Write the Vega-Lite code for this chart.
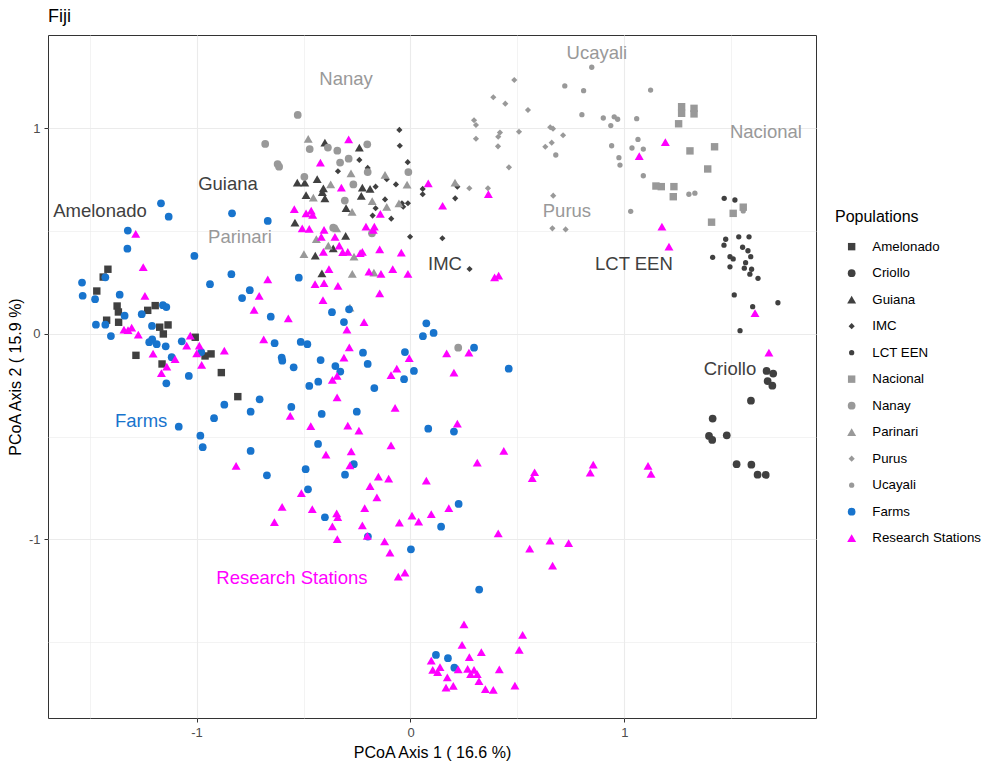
{
  "$schema": "https://vega.github.io/schema/vega-lite/v6.json",
  "width": 768,
  "height": 683,
  "autosize": {"type": "none"},
  "padding": {"left": 48, "top": 35, "right": 175, "bottom": 47},
  "background": "white",
  "title": {"text": "Fiji", "anchor": "start", "frame": "group", "offset": 9, "fontSize": 18, "font": "Liberation Sans", "fontWeight": "normal", "color": "#000000"},
  "config": {
    "view": {"stroke": "#333333", "strokeWidth": 1},
    "font": "Liberation Sans",
    "axis": {"domain": false, "gridColor": "#EBEBEB", "tickColor": "#333333", "tickSize": 4, "labelColor": "#4D4D4D", "labelFontSize": 13, "labelPadding": 4, "titleFontSize": 16, "titleFontWeight": "normal", "titleColor": "#000000", "labelFont": "Liberation Sans", "titleFont": "Liberation Sans"},
    "legend": {"titleFontSize": 16, "titleFontWeight": "normal", "titleColor": "#000000", "labelFontSize": 13.3, "labelColor": "#000000", "rowPadding": 12.5, "titlePadding": 15, "labelOffset": 14, "symbolOffset": 10, "titleFont": "Liberation Sans", "labelFont": "Liberation Sans"}
  },
  "datasets": {
    "pts": [
      {"pop":"Amelonado","x":-1.414,"y":0.315},{"pop":"Amelonado","x":-1.436,"y":0.277},{"pop":"Amelonado","x":-1.466,"y":0.209},{"pop":"Amelonado","x":-1.371,"y":0.136},{"pop":"Amelonado","x":-1.365,"y":0.107},{"pop":"Amelonado","x":-1.420,"y":0.067},{"pop":"Amelonado","x":-1.364,"y":0.057},{"pop":"Amelonado","x":-1.228,"y":0.115},{"pop":"Amelonado","x":-1.193,"y":0.138},{"pop":"Amelonado","x":-1.172,"y":0.033},{"pop":"Amelonado","x":-1.133,"y":0.044},{"pop":"Amelonado","x":-1.155,"y":0.000},{"pop":"Amelonado","x":-1.283,"y":-0.104},{"pop":"Amelonado","x":-1.161,"y":-0.146},{"pop":"Amelonado","x":-1.006,"y":-0.016},{"pop":"Amelonado","x":-0.960,"y":-0.107},{"pop":"Amelonado","x":-0.932,"y":-0.097},{"pop":"Amelonado","x":-0.884,"y":-0.188},{"pop":"Amelonado","x":-0.807,"y":-0.305},
      {"pop":"Criollo","x":1.664,"y":-0.180},{"pop":"Criollo","x":1.695,"y":-0.193},{"pop":"Criollo","x":1.669,"y":-0.229},{"pop":"Criollo","x":1.691,"y":-0.252},{"pop":"Criollo","x":1.591,"y":-0.325},{"pop":"Criollo","x":1.412,"y":-0.412},{"pop":"Criollo","x":1.395,"y":-0.496},{"pop":"Criollo","x":1.410,"y":-0.516},{"pop":"Criollo","x":1.478,"y":-0.493},{"pop":"Criollo","x":1.524,"y":-0.634},{"pop":"Criollo","x":1.593,"y":-0.636},{"pop":"Criollo","x":1.622,"y":-0.685},{"pop":"Criollo","x":1.660,"y":-0.686},
      {"pop":"Guiana","x":-0.400,"y":0.931},{"pop":"Guiana","x":-0.239,"y":0.907},{"pop":"Guiana","x":-0.529,"y":0.736},{"pop":"Guiana","x":-0.494,"y":0.736},{"pop":"Guiana","x":-0.436,"y":0.753},{"pop":"Guiana","x":-0.407,"y":0.709},{"pop":"Guiana","x":-0.488,"y":0.676},{"pop":"Guiana","x":-0.400,"y":0.660},{"pop":"Guiana","x":-0.412,"y":0.690},{"pop":"Guiana","x":-0.225,"y":0.712},{"pop":"Guiana","x":-0.189,"y":0.706},{"pop":"Guiana","x":-0.230,"y":0.672},{"pop":"Guiana","x":-0.301,"y":0.612},{"pop":"Guiana","x":-0.540,"y":0.542},{"pop":"Guiana","x":-0.303,"y":0.477},{"pop":"Guiana","x":-0.361,"y":0.417},{"pop":"Guiana","x":-0.445,"y":0.381},{"pop":"Guiana","x":-0.414,"y":0.295},
      {"pop":"IMC","x":-0.052,"y":0.993},{"pop":"IMC","x":-0.050,"y":0.916},{"pop":"IMC","x":-0.239,"y":0.847},{"pop":"IMC","x":-0.013,"y":0.836},{"pop":"IMC","x":-0.339,"y":0.792},{"pop":"IMC","x":-0.200,"y":0.808},{"pop":"IMC","x":-0.111,"y":0.753},{"pop":"IMC","x":-0.068,"y":0.728},{"pop":"IMC","x":-0.163,"y":0.717},{"pop":"IMC","x":-0.119,"y":0.655},{"pop":"IMC","x":-0.040,"y":0.636},{"pop":"IMC","x":-0.012,"y":0.636},{"pop":"IMC","x":-0.034,"y":0.619},{"pop":"IMC","x":-0.163,"y":0.612},{"pop":"IMC","x":-0.177,"y":0.576},{"pop":"IMC","x":-0.090,"y":0.561},{"pop":"IMC","x":-0.002,"y":0.473},{"pop":"IMC","x":0.149,"y":0.466},{"pop":"IMC","x":0.057,"y":0.706},{"pop":"IMC","x":0.057,"y":0.680},{"pop":"IMC","x":0.209,"y":0.660},{"pop":"IMC","x":0.219,"y":0.717},{"pop":"IMC","x":0.276,"y":0.316},
      {"pop":"LCT EEN","x":1.466,"y":0.660},{"pop":"LCT EEN","x":1.516,"y":0.652},{"pop":"LCT EEN","x":1.473,"y":0.461},{"pop":"LCT EEN","x":1.465,"y":0.432},{"pop":"LCT EEN","x":1.534,"y":0.473},{"pop":"LCT EEN","x":1.582,"y":0.473},{"pop":"LCT EEN","x":1.412,"y":0.373},{"pop":"LCT EEN","x":1.493,"y":0.376},{"pop":"LCT EEN","x":1.508,"y":0.365},{"pop":"LCT EEN","x":1.552,"y":0.422},{"pop":"LCT EEN","x":1.577,"y":0.405},{"pop":"LCT EEN","x":1.590,"y":0.376},{"pop":"LCT EEN","x":1.493,"y":0.327},{"pop":"LCT EEN","x":1.566,"y":0.347},{"pop":"LCT EEN","x":1.560,"y":0.320},{"pop":"LCT EEN","x":1.594,"y":0.315},{"pop":"LCT EEN","x":1.586,"y":0.291},{"pop":"LCT EEN","x":1.624,"y":0.271},{"pop":"LCT EEN","x":1.513,"y":0.190},{"pop":"LCT EEN","x":1.717,"y":0.152},{"pop":"LCT EEN","x":1.599,"y":0.133},{"pop":"LCT EEN","x":1.540,"y":0.016},
      {"pop":"Nacional","x":1.267,"y":1.106},{"pop":"Nacional","x":1.267,"y":1.074},{"pop":"Nacional","x":1.325,"y":1.098},{"pop":"Nacional","x":1.325,"y":1.071},{"pop":"Nacional","x":1.253,"y":1.023},{"pop":"Nacional","x":1.421,"y":0.911},{"pop":"Nacional","x":1.306,"y":0.891},{"pop":"Nacional","x":1.389,"y":0.803},{"pop":"Nacional","x":1.147,"y":0.720},{"pop":"Nacional","x":1.172,"y":0.717},{"pop":"Nacional","x":1.231,"y":0.717},{"pop":"Nacional","x":1.228,"y":0.668},{"pop":"Nacional","x":1.555,"y":0.617},{"pop":"Nacional","x":1.508,"y":0.587},{"pop":"Nacional","x":1.407,"y":0.544},
      {"pop":"Nanay","x":-0.527,"y":1.066},{"pop":"Nanay","x":-0.679,"y":0.925},{"pop":"Nanay","x":-0.621,"y":0.827},{"pop":"Nanay","x":-0.614,"y":0.814},{"pop":"Nanay","x":-0.471,"y":0.900},{"pop":"Nanay","x":-0.386,"y":0.907},{"pop":"Nanay","x":-0.342,"y":0.892},{"pop":"Nanay","x":-0.202,"y":0.923},{"pop":"Nanay","x":-0.289,"y":0.853},{"pop":"Nanay","x":-0.329,"y":0.834},{"pop":"Nanay","x":-0.200,"y":0.788},{"pop":"Nanay","x":-0.010,"y":0.788},{"pop":"Nanay","x":-0.496,"y":0.765},{"pop":"Nanay","x":-0.267,"y":0.728},{"pop":"Nanay","x":-0.307,"y":0.649},{"pop":"Nanay","x":-0.361,"y":0.517},{"pop":"Nanay","x":-0.180,"y":0.490},{"pop":"Nanay","x":0.223,"y":-0.067},
      {"pop":"Parinari","x":-0.478,"y":0.949},{"pop":"Parinari","x":-0.278,"y":0.782},{"pop":"Parinari","x":-0.119,"y":0.774},{"pop":"Parinari","x":-0.016,"y":0.727},{"pop":"Parinari","x":-0.373,"y":0.728},{"pop":"Parinari","x":-0.454,"y":0.663},{"pop":"Parinari","x":-0.179,"y":0.647},{"pop":"Parinari","x":-0.111,"y":0.619},{"pop":"Parinari","x":-0.054,"y":0.636},{"pop":"Parinari","x":-0.273,"y":0.594},{"pop":"Parinari","x":-0.345,"y":0.514},{"pop":"Parinari","x":-0.440,"y":0.461},{"pop":"Parinari","x":-0.384,"y":0.430},{"pop":"Parinari","x":-0.264,"y":0.376},{"pop":"Parinari","x":-0.498,"y":0.388},{"pop":"Parinari","x":-0.272,"y":0.292},{"pop":"Parinari","x":-0.171,"y":0.298},{"pop":"Parinari","x":0.208,"y":0.737},{"pop":"Parinari","x":-0.283,"y":0.128},
      {"pop":"Purus","x":0.485,"y":1.236},{"pop":"Purus","x":0.387,"y":1.152},{"pop":"Purus","x":0.443,"y":1.121},{"pop":"Purus","x":0.549,"y":1.090},{"pop":"Purus","x":0.297,"y":1.040},{"pop":"Purus","x":0.306,"y":1.017},{"pop":"Purus","x":0.306,"y":0.950},{"pop":"Purus","x":0.418,"y":0.980},{"pop":"Purus","x":0.410,"y":0.960},{"pop":"Purus","x":0.507,"y":0.984},{"pop":"Purus","x":0.409,"y":0.913},{"pop":"Purus","x":0.460,"y":0.811},{"pop":"Purus","x":0.653,"y":1.006},{"pop":"Purus","x":0.666,"y":0.999},{"pop":"Purus","x":0.713,"y":0.967},{"pop":"Purus","x":0.660,"y":0.931},{"pop":"Purus","x":0.630,"y":0.911},{"pop":"Purus","x":0.667,"y":0.673},{"pop":"Purus","x":0.275,"y":0.709},{"pop":"Purus","x":0.362,"y":0.709},{"pop":"Purus","x":0.663,"y":0.514},{"pop":"Purus","x":0.725,"y":0.509},
      {"pop":"Ucayali","x":0.847,"y":1.298},{"pop":"Ucayali","x":0.721,"y":1.207},{"pop":"Ucayali","x":0.809,"y":1.184},{"pop":"Ucayali","x":0.801,"y":1.067},{"pop":"Ucayali","x":0.901,"y":1.051},{"pop":"Ucayali","x":0.952,"y":1.057},{"pop":"Ucayali","x":0.968,"y":1.045},{"pop":"Ucayali","x":0.936,"y":1.014},{"pop":"Ucayali","x":1.057,"y":1.048},{"pop":"Ucayali","x":1.122,"y":1.187},{"pop":"Ucayali","x":0.679,"y":0.871},{"pop":"Ucayali","x":0.940,"y":0.916},{"pop":"Ucayali","x":0.974,"y":0.858},{"pop":"Ucayali","x":0.979,"y":0.822},{"pop":"Ucayali","x":1.035,"y":0.905},{"pop":"Ucayali","x":1.063,"y":0.947},{"pop":"Ucayali","x":1.088,"y":0.900},{"pop":"Ucayali","x":1.088,"y":0.770},{"pop":"Ucayali","x":1.029,"y":0.597},{"pop":"Ucayali","x":1.301,"y":0.680},{"pop":"Ucayali","x":1.329,"y":0.685},{"pop":"Ucayali","x":1.555,"y":0.599},
      {"pop":"Farms","x":-1.166,"y":0.636},{"pop":"Farms","x":-1.130,"y":0.571},{"pop":"Farms","x":-1.321,"y":0.503},{"pop":"Farms","x":-1.323,"y":0.415},{"pop":"Farms","x":-1.010,"y":0.380},{"pop":"Farms","x":-1.426,"y":0.276},{"pop":"Farms","x":-1.535,"y":0.250},{"pop":"Farms","x":-1.532,"y":0.186},{"pop":"Farms","x":-1.474,"y":0.169},{"pop":"Farms","x":-1.359,"y":0.191},{"pop":"Farms","x":-0.937,"y":0.242},{"pop":"Farms","x":-0.837,"y":0.291},{"pop":"Farms","x":-0.834,"y":0.587},{"pop":"Farms","x":-1.336,"y":0.089},{"pop":"Farms","x":-1.256,"y":0.096},{"pop":"Farms","x":-1.157,"y":0.140},{"pop":"Farms","x":-1.141,"y":0.131},{"pop":"Farms","x":-1.470,"y":0.045},{"pop":"Farms","x":-1.426,"y":0.045},{"pop":"Farms","x":-1.400,"y":-0.010},{"pop":"Farms","x":-1.208,"y":0.039},{"pop":"Farms","x":-1.221,"y":-0.040},{"pop":"Farms","x":-1.207,"y":-0.026},{"pop":"Farms","x":-1.186,"y":-0.050},{"pop":"Farms","x":-1.144,"y":-0.060},{"pop":"Farms","x":-1.069,"y":-0.036},{"pop":"Farms","x":-1.116,"y":-0.113},{"pop":"Farms","x":-1.036,"y":-0.204},{"pop":"Farms","x":-1.141,"y":-0.240},{"pop":"Farms","x":-0.978,"y":-0.088},
      {"pop":"Farms","x":-0.751,"y":0.213},{"pop":"Farms","x":-0.787,"y":0.175},{"pop":"Farms","x":-0.653,"y":0.084},{"pop":"Farms","x":-0.522,"y":0.274},{"pop":"Farms","x":-0.635,"y":-0.045},{"pop":"Farms","x":-0.602,"y":-0.115},{"pop":"Farms","x":-0.599,"y":-0.130},{"pop":"Farms","x":-0.546,"y":-0.162},{"pop":"Farms","x":-0.513,"y":-0.039},{"pop":"Farms","x":-0.482,"y":-0.050},{"pop":"Farms","x":-0.367,"y":0.106},{"pop":"Farms","x":-0.311,"y":0.058},{"pop":"Farms","x":-0.287,"y":0.120},{"pop":"Farms","x":-0.420,"y":-0.127},{"pop":"Farms","x":-0.351,"y":-0.156},{"pop":"Farms","x":-0.328,"y":-0.183},{"pop":"Farms","x":-0.431,"y":-0.232},{"pop":"Farms","x":-0.473,"y":-0.253},{"pop":"Farms","x":-0.222,"y":-0.091},{"pop":"Farms","x":-0.200,"y":-0.146},{"pop":"Farms","x":-0.169,"y":-0.263},{"pop":"Farms","x":-0.026,"y":-0.088},{"pop":"Farms","x":0.016,"y":-0.180},{"pop":"Farms","x":-0.030,"y":-0.220},{"pop":"Farms","x":-1.083,"y":-0.451},{"pop":"Farms","x":-0.982,"y":-0.495},{"pop":"Farms","x":-0.971,"y":-0.551},{"pop":"Farms","x":-0.918,"y":-0.410},{"pop":"Farms","x":-0.870,"y":-0.344},{"pop":"Farms","x":-0.747,"y":-0.378},{"pop":"Farms","x":-0.705,"y":-0.318},{"pop":"Farms","x":-0.747,"y":-0.569},{"pop":"Farms","x":-0.557,"y":-0.355},{"pop":"Farms","x":-0.415,"y":-0.389},{"pop":"Farms","x":-0.251,"y":-0.378},{"pop":"Farms","x":-0.432,"y":-0.535},{"pop":"Farms","x":-0.667,"y":0.550},
      {"pop":"Farms","x":0.074,"y":0.052},{"pop":"Farms","x":0.058,"y":-0.011},{"pop":"Farms","x":0.108,"y":0.005},{"pop":"Farms","x":0.297,"y":-0.067},{"pop":"Farms","x":0.459,"y":-0.169},{"pop":"Farms","x":0.083,"y":-0.461},{"pop":"Farms","x":0.203,"y":-0.475},{"pop":"Farms","x":-0.671,"y":-0.688},{"pop":"Farms","x":-0.490,"y":-0.658},{"pop":"Farms","x":-0.265,"y":-0.634},{"pop":"Farms","x":-0.306,"y":-0.685},{"pop":"Farms","x":-0.479,"y":-0.756},{"pop":"Farms","x":-0.400,"y":-0.892},{"pop":"Farms","x":-0.199,"y":-0.986},{"pop":"Farms","x":0.225,"y":-0.827},{"pop":"Farms","x":0.143,"y":-0.938},{"pop":"Farms","x":0.002,"y":-1.048},{"pop":"Farms","x":0.321,"y":-1.244},{"pop":"Farms","x":0.119,"y":-1.562},{"pop":"Farms","x":0.175,"y":-1.578},{"pop":"Farms","x":0.205,"y":-1.624},
      {"pop":"Research Stations","x":-1.284,"y":0.487},{"pop":"Research Stations","x":-1.249,"y":0.325},{"pop":"Research Stations","x":-1.241,"y":0.185},{"pop":"Research Stations","x":-1.339,"y":0.021},{"pop":"Research Stations","x":-1.303,"y":0.031},{"pop":"Research Stations","x":-1.320,"y":0.019},{"pop":"Research Stations","x":-1.272,"y":-0.003},{"pop":"Research Stations","x":-1.203,"y":-0.096},{"pop":"Research Stations","x":-1.100,"y":-0.122},{"pop":"Research Stations","x":-1.139,"y":-0.159},{"pop":"Research Stations","x":-1.164,"y":-0.191},{"pop":"Research Stations","x":-1.029,"y":-0.008},{"pop":"Research Stations","x":-1.046,"y":-0.057},{"pop":"Research Stations","x":-0.987,"y":-0.057},{"pop":"Research Stations","x":-0.999,"y":-0.094},{"pop":"Research Stations","x":-0.976,"y":-0.151},{"pop":"Research Stations","x":-0.870,"y":-0.081},
      {"pop":"Research Stations","x":-0.731,"y":0.117},{"pop":"Research Stations","x":-0.571,"y":0.076},{"pop":"Research Stations","x":-0.686,"y":-0.026},{"pop":"Research Stations","x":-0.217,"y":0.058},{"pop":"Research Stations","x":-0.297,"y":0.021},{"pop":"Research Stations","x":-0.286,"y":-0.065},{"pop":"Research Stations","x":-0.311,"y":-0.115},{"pop":"Research Stations","x":-0.365,"y":-0.224},{"pop":"Research Stations","x":-0.343,"y":-0.204},{"pop":"Research Stations","x":-0.343,"y":-0.308},{"pop":"Research Stations","x":-0.091,"y":-0.200},{"pop":"Research Stations","x":-0.064,"y":-0.169},{"pop":"Research Stations","x":-0.006,"y":-0.118},{"pop":"Research Stations","x":-0.072,"y":-0.360},{"pop":"Research Stations","x":-0.562,"y":-0.399},{"pop":"Research Stations","x":-0.466,"y":-0.448},{"pop":"Research Stations","x":-0.293,"y":-0.446},{"pop":"Research Stations","x":-0.241,"y":-0.471},{"pop":"Research Stations","x":-0.395,"y":-0.587},{"pop":"Research Stations","x":-0.277,"y":-0.571},{"pop":"Research Stations","x":-0.091,"y":-0.542},
      {"pop":"Research Stations","x":-0.289,"y":0.947},{"pop":"Research Stations","x":-0.421,"y":0.834},{"pop":"Research Stations","x":-0.323,"y":0.712},{"pop":"Research Stations","x":0.083,"y":0.733},{"pop":"Research Stations","x":0.150,"y":0.624},{"pop":"Research Stations","x":-0.543,"y":0.607},{"pop":"Research Stations","x":-0.488,"y":0.587},{"pop":"Research Stations","x":-0.464,"y":0.600},{"pop":"Research Stations","x":-0.457,"y":0.579},{"pop":"Research Stations","x":-0.141,"y":0.584},{"pop":"Research Stations","x":-0.506,"y":0.514},{"pop":"Research Stations","x":-0.473,"y":0.511},{"pop":"Research Stations","x":-0.404,"y":0.506},{"pop":"Research Stations","x":-0.417,"y":0.473},{"pop":"Research Stations","x":-0.353,"y":0.473},{"pop":"Research Stations","x":-0.208,"y":0.522},{"pop":"Research Stations","x":-0.169,"y":0.522},{"pop":"Research Stations","x":-0.174,"y":0.506},{"pop":"Research Stations","x":-0.333,"y":0.430},{"pop":"Research Stations","x":-0.317,"y":0.398},{"pop":"Research Stations","x":-0.293,"y":0.400},{"pop":"Research Stations","x":-0.407,"y":0.400},{"pop":"Research Stations","x":-0.235,"y":0.393},{"pop":"Research Stations","x":-0.225,"y":0.400},{"pop":"Research Stations","x":-0.144,"y":0.412},{"pop":"Research Stations","x":-0.043,"y":0.396},{"pop":"Research Stations","x":-0.381,"y":0.316},{"pop":"Research Stations","x":-0.194,"y":0.303},{"pop":"Research Stations","x":-0.138,"y":0.292},{"pop":"Research Stations","x":-0.083,"y":0.316},{"pop":"Research Stations","x":-0.012,"y":0.292},{"pop":"Research Stations","x":-0.446,"y":0.243},{"pop":"Research Stations","x":-0.404,"y":0.247},{"pop":"Research Stations","x":-0.339,"y":0.234},{"pop":"Research Stations","x":-0.667,"y":0.266},{"pop":"Research Stations","x":-0.707,"y":0.185},{"pop":"Research Stations","x":-0.409,"y":0.165},{"pop":"Research Stations","x":-0.144,"y":0.198},
      {"pop":"Research Stations","x":0.364,"y":0.681},{"pop":"Research Stations","x":1.069,"y":0.866},{"pop":"Research Stations","x":1.191,"y":0.934},{"pop":"Research Stations","x":1.175,"y":0.522},{"pop":"Research Stations","x":1.208,"y":0.425},{"pop":"Research Stations","x":1.610,"y":0.101},{"pop":"Research Stations","x":1.675,"y":-0.091},{"pop":"Research Stations","x":0.393,"y":0.276},{"pop":"Research Stations","x":0.412,"y":0.284},{"pop":"Research Stations","x":0.169,"y":-0.094},{"pop":"Research Stations","x":0.273,"y":-0.091},{"pop":"Research Stations","x":0.203,"y":-0.188},{"pop":"Research Stations","x":0.219,"y":-0.436},{"pop":"Research Stations","x":0.436,"y":-0.569},
      {"pop":"Research Stations","x":-0.815,"y":-0.642},{"pop":"Research Stations","x":-0.283,"y":-0.639},{"pop":"Research Stations","x":-0.150,"y":-0.694},{"pop":"Research Stations","x":-0.102,"y":-0.704},{"pop":"Research Stations","x":-0.189,"y":-0.740},{"pop":"Research Stations","x":-0.157,"y":-0.795},{"pop":"Research Stations","x":-0.510,"y":-0.774},{"pop":"Research Stations","x":-0.600,"y":-0.842},{"pop":"Research Stations","x":-0.636,"y":-0.916},{"pop":"Research Stations","x":-0.459,"y":-0.853},{"pop":"Research Stations","x":-0.345,"y":-0.873},{"pop":"Research Stations","x":-0.340,"y":-0.892},{"pop":"Research Stations","x":-0.365,"y":-0.936},{"pop":"Research Stations","x":-0.342,"y":-0.999},{"pop":"Research Stations","x":-0.214,"y":-0.848},{"pop":"Research Stations","x":-0.225,"y":-0.931},{"pop":"Research Stations","x":-0.202,"y":-0.983},{"pop":"Research Stations","x":-0.121,"y":-1.009},{"pop":"Research Stations","x":-0.096,"y":-1.064},{"pop":"Research Stations","x":-0.052,"y":-0.918},{"pop":"Research Stations","x":0.007,"y":-0.884},{"pop":"Research Stations","x":0.038,"y":-0.913},{"pop":"Research Stations","x":0.097,"y":-0.877},{"pop":"Research Stations","x":0.179,"y":-0.848},{"pop":"Research Stations","x":0.074,"y":-0.714},{"pop":"Research Stations","x":0.312,"y":-0.626},{"pop":"Research Stations","x":0.410,"y":-0.970},{"pop":"Research Stations","x":0.580,"y":-0.673},{"pop":"Research Stations","x":0.569,"y":-0.701},{"pop":"Research Stations","x":0.854,"y":-0.636},{"pop":"Research Stations","x":0.840,"y":-0.675},{"pop":"Research Stations","x":1.110,"y":-0.642},{"pop":"Research Stations","x":1.124,"y":-0.681},{"pop":"Research Stations","x":0.557,"y":-1.045},{"pop":"Research Stations","x":0.652,"y":-1.006},{"pop":"Research Stations","x":0.739,"y":-1.018},{"pop":"Research Stations","x":0.664,"y":-1.127},{"pop":"Research Stations","x":-0.026,"y":-1.162},{"pop":"Research Stations","x":-0.057,"y":-1.181},
      {"pop":"Research Stations","x":0.250,"y":-1.413},{"pop":"Research Stations","x":0.241,"y":-1.513},{"pop":"Research Stations","x":0.524,"y":-1.465},{"pop":"Research Stations","x":0.508,"y":-1.538},{"pop":"Research Stations","x":0.097,"y":-1.590},{"pop":"Research Stations","x":0.275,"y":-1.573},{"pop":"Research Stations","x":0.331,"y":-1.549},{"pop":"Research Stations","x":0.104,"y":-1.635},{"pop":"Research Stations","x":0.127,"y":-1.646},{"pop":"Research Stations","x":0.138,"y":-1.622},{"pop":"Research Stations","x":0.223,"y":-1.632},{"pop":"Research Stations","x":0.267,"y":-1.630},{"pop":"Research Stations","x":0.297,"y":-1.635},{"pop":"Research Stations","x":0.281,"y":-1.655},{"pop":"Research Stations","x":0.312,"y":-1.656},{"pop":"Research Stations","x":0.415,"y":-1.632},{"pop":"Research Stations","x":0.172,"y":-1.671},{"pop":"Research Stations","x":0.320,"y":-1.689},{"pop":"Research Stations","x":0.166,"y":-1.721},{"pop":"Research Stations","x":0.200,"y":-1.713},{"pop":"Research Stations","x":0.350,"y":-1.729},{"pop":"Research Stations","x":0.387,"y":-1.732},{"pop":"Research Stations","x":0.488,"y":-1.711}
    ],
    "labels": [
      {"pop":"Amelonado","x":-1.451,"y":0.599},
      {"pop":"Guiana","x":-0.853,"y":0.730},
      {"pop":"Parinari","x":-0.797,"y":0.472},
      {"pop":"Nanay","x":-0.301,"y":1.241},
      {"pop":"Ucayali","x":0.871,"y":1.367},
      {"pop":"Nacional","x":1.661,"y":0.983},
      {"pop":"Purus","x":0.731,"y":0.599},
      {"pop":"IMC","x":0.161,"y":0.341},
      {"pop":"LCT EEN","x":1.044,"y":0.341},
      {"pop":"Criollo","x":1.493,"y":-0.170},
      {"pop":"Farms","x":-1.259,"y":-0.423},
      {"pop":"Research Stations","x":-0.554,"y":-1.187}
    ]
  },
  "encoding": {
    "x": {"field": "x", "type": "quantitative",
      "scale": {"domain": [-1.694, 1.895], "nice": false, "zero": false},
      "axis": {"title": "PCoA Axis 1 ( 16.6 %)", "values": [-1.5, -1, -0.5, 0, 0.5, 1, 1.5],
        "labelExpr": "datum.value % 1 === 0 ? '' + datum.value : ''",
        "tickOpacity": {"condition": {"test": "datum.value % 1 !== 0", "value": 0}, "value": 1},
        "gridWidth": {"condition": {"test": "datum.value % 1 !== 0", "value": 0.6}, "value": 1.1},
        "titlePadding": 5}},
    "y": {"field": "y", "type": "quantitative",
      "scale": {"domain": [-1.869, 1.455], "nice": false, "zero": false},
      "axis": {"title": "PCoA Axis 2 ( 15.9 %)", "values": [-1.5, -1, -0.5, 0, 0.5, 1],
        "labelExpr": "datum.value % 1 === 0 ? '' + datum.value : ''",
        "tickOpacity": {"condition": {"test": "datum.value % 1 !== 0", "value": 0}, "value": 1},
        "gridWidth": {"condition": {"test": "datum.value % 1 !== 0", "value": 0.6}, "value": 1.1},
        "titlePadding": 5}}
  },
  "layer": [
    {
      "data": {"name": "pts"},
      "mark": {"type": "point", "filled": true, "opacity": 1, "strokeWidth": 0},
      "encoding": {
        "color": {"field": "pop", "type": "nominal", "title": "Populations",
          "scale": {"domain": ["Amelonado","Criollo","Guiana","IMC","LCT EEN","Nacional","Nanay","Parinari","Purus","Ucayali","Farms","Research Stations"],
            "range": ["#404040","#404040","#404040","#404040","#404040","#999999","#999999","#999999","#999999","#999999","#1874CD","#FF00FF"]},
          "legend": {"orient": "none", "legendX": 787, "legendY": 174}},
        "shape": {"field": "pop", "type": "nominal", "title": "Populations",
          "scale": {"domain": ["Amelonado","Criollo","Guiana","IMC","LCT EEN","Nacional","Nanay","Parinari","Purus","Ucayali","Farms","Research Stations"],
            "range": ["square","circle","triangle-up","diamond","circle","square","circle","triangle-up","diamond","circle","circle","triangle-up"]}},
        "size": {"field": "pop", "type": "nominal", "title": "Populations",
          "scale": {"type": "ordinal", "domain": ["Amelonado","Criollo","Guiana","IMC","LCT EEN","Nacional","Nanay","Parinari","Purus","Ucayali","Farms","Research Stations"],
            "range": [55, 60, 80, 38, 28, 55, 60, 80, 38, 28, 60, 80]}}
      }
    },
    {
      "data": {"name": "labels"},
      "mark": {"type": "text", "fontSize": 18.5, "font": "Liberation Sans", "align": "center", "baseline": "middle"},
      "encoding": {
        "text": {"field": "pop", "type": "nominal"},
        "color": {"field": "pop", "type": "nominal", "legend": null}
      }
    }
  ]
}
